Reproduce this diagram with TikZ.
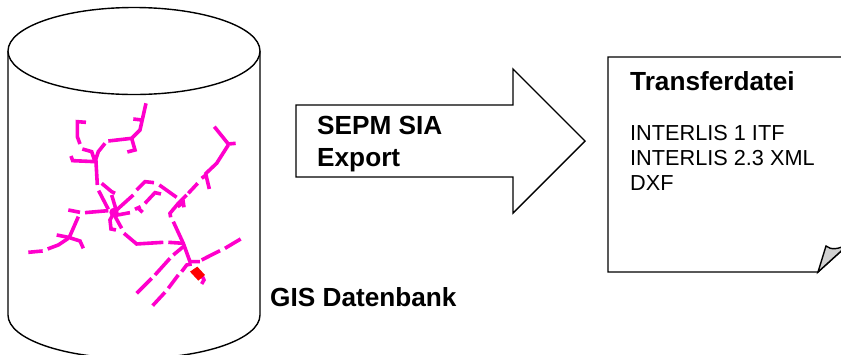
\documentclass[tikz,border=0pt]{standalone}
\usepackage{fontspec}
\setmainfont{Liberation Sans}
\definecolor{netpink}{RGB}{255,0,204}
\tikzset{
    outline/.style={draw=black, line width=1.4pt, fill=white},
    netline/.style={draw=netpink, line width=3.6pt},
    boldlabel/.style={font=\fontsize{26.2}{32}\selectfont\bfseries, anchor=base west, inner sep=0pt, align=left},
    plainlabel/.style={font=\fontsize{21.7}{24.6}\selectfont, anchor=base west, inner sep=0pt, align=left}
}
\begin{document}
\begin{tikzpicture}[x=1pt, y=-1pt]
        \useasboundingbox (0,0) rectangle (841,354);
        % datenbank
        \draw[outline] (8,51) -- (8,315) arc[start angle=180, end angle=0, x radius=126, y radius=43.5] -- (260,51);
        \draw[outline] (134,51) ellipse[x radius=126, y radius=43.5];
        % netz, in 3x coordinates
        \begin{scope}[x=0.3333pt, y=-0.3333pt, shift={(0,240)}]
        \draw[netline] (438,70) -- (420,150) -- (395,175) -- (325,183);
        \draw[netline] (400,117) -- (425,120);
        \draw[netline] (395,175) -- (405,210) -- (382,216);
        \draw[netline] (315,190) -- (295,215) -- (285,245);
        \draw[netline] (258,127) -- (232,125) -- (232,170) -- (240,192);
        \draw[netline] (247,207) -- (275,215) -- (285,245);
        \draw[netline] (213,228) -- (218,242) -- (285,245) -- (288,245) -- (292,315);
        \draw[netline] (296,332) -- (325,388);
        \draw[netline] (305,310) -- (335,335) -- (345,340);
        \draw[netline] (335,345) -- (350,395);
        \draw[netline] (205,390) -- (240,397);
        \draw[netline] (255,398) -- (325,392);
        \draw[netline] (235,410) -- (208,472);
        \draw[netline] (170,465) -- (205,472) -- (240,483) -- (250,505);
        \draw[netline] (205,475) -- (175,495) -- (143,507);
        \draw[netline] (128,513) -- (85,517);
        \draw[netline] (342,397) -- (330,420) -- (333,447) -- (348,450);
        \draw[netline] (340,400) -- (365,445);
        \draw[netline] (372,460) -- (410,492) -- (490,487);
        \draw[netline] (505,487) -- (550,490);
        \draw[netline] (342,397) -- (400,345);
        \draw[netline] (410,330) -- (435,305) -- (462,308);
        \draw[netline] (478,315) -- (530,352);
        \draw[netline] (342,407) -- (390,398);
        \draw[netline] (405,388) -- (422,380);
        \draw[netline] (415,385) -- (428,397);
        \draw[netline] (435,370) -- (465,338) -- (483,342);
        \draw[netline] (643,140) -- (685,192) -- (707,190);
        \draw[netline] (685,195) -- (650,250) -- (615,283);
        \draw[netline] (605,295) -- (618,285) -- (628,327);
        \draw[netline] (593,310) -- (565,340);
        \draw[netline] (560,345) -- (535,370) -- (510,400) -- (512,412);
        \draw[netline] (533,380) -- (550,368) -- (552,382);
        \draw[netline] (520,425) -- (550,490) -- (570,545) -- (600,545);
        \draw[netline] (605,540) -- (660,512);
        \draw[netline] (675,505) -- (722,477);
        \draw[netline] (550,500) -- (520,525);
        \draw[netline] (510,535) -- (465,585);
        \draw[netline] (455,595) -- (410,640);
        \draw[netline] (575,552) -- (560,555) -- (545,575);
        \draw[netline] (535,585) -- (505,625);
        \draw[netline] (495,637) -- (458,677);
        \draw[netline] (605,585) -- (612,600) -- (605,612);
        \fill[netpink] (342,397) circle (14);
        \fill[red] (570,575) -- (592,560) -- (615,585) -- (595,602) -- cycle;
        \end{scope}
        \node[boldlabel] (gislabel) at (270,306) {GIS Datenbank};
        % pfeil
        \draw[outline] (296,105) -- (513,105) -- (513,69) -- (585,141) -- (513,213) -- (513,177) -- (296,177) -- cycle;
        \node[boldlabel] (exportlabel) at (317,166) {SEPM SIA\\Export};
        % transferdatei
        \draw[outline] (608,57) -- (850,57) -- (850,243) -- (818,272) -- (608,272) -- cycle;
        \draw[outline, fill=black!18] (818,272) -- (826,246) .. controls (831,250) and (838,250) .. (850,243) -- cycle;
        \node[boldlabel] (filetitle) at (630,90) {Transferdatei};
        \node[plainlabel] (filelist) at (630,190) {INTERLIS 1 ITF\\INTERLIS 2.3 XML\\DXF};
        \end{tikzpicture}
\end{document}
